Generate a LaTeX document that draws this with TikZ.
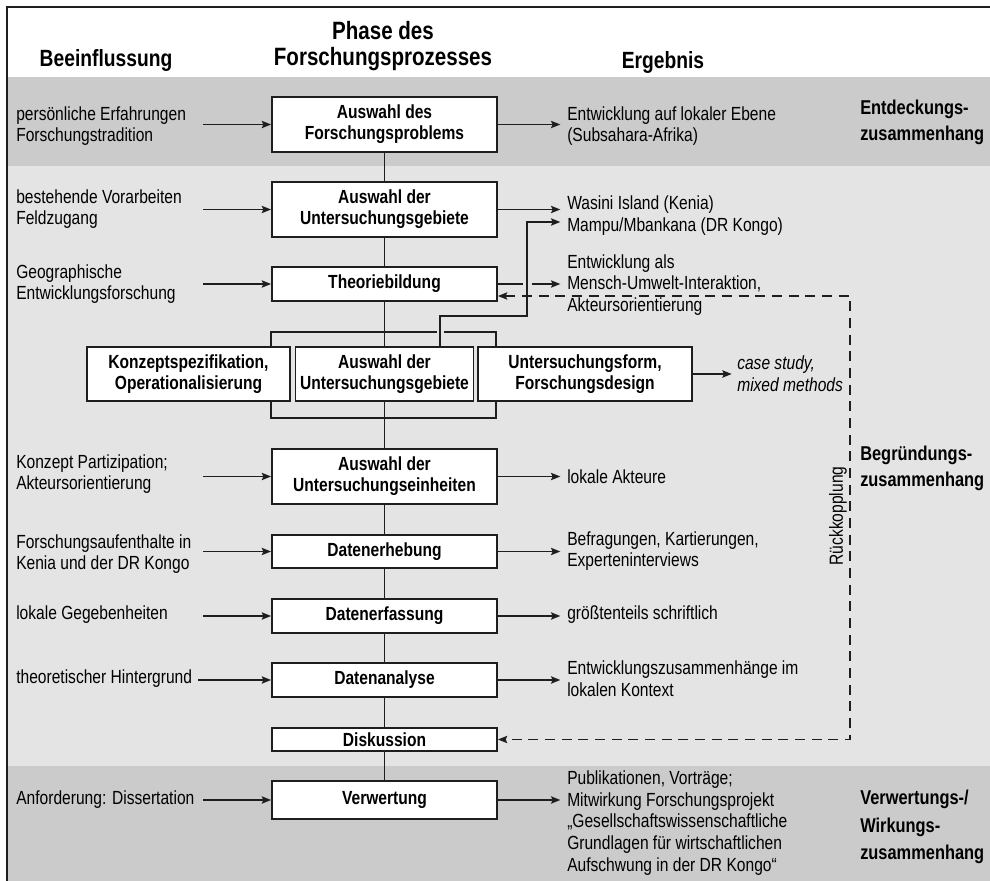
\documentclass[tikz,border=0pt]{standalone}
\usepackage{fontspec}
\setmainfont{Liberation Sans}[FakeStretch=0.82]
\usetikzlibrary{arrows.meta}
\definecolor{banddark}{HTML}{CBCBCB}
\definecolor{bandlight}{HTML}{E4E4E4}
\definecolor{ink}{HTML}{1E1E1E}
\newcommand{\fsnm}{\fontsize{14.25pt}{16.3pt}\selectfont}
\newcommand{\fsbx}{\fontsize{14.25pt}{15.75pt}\selectfont\bfseries}
\newcommand{\fshd}{\fontsize{18.8pt}{19.6pt}\selectfont\bfseries}
\newcommand{\fshs}{\fontsize{17.6pt}{20pt}\selectfont\bfseries}
\newcommand{\fsrt}{\fontsize{15pt}{19.5pt}\selectfont\bfseries}
\newcommand{\fsrtb}{\fontsize{15pt}{20.6pt}\selectfont\bfseries}
\begin{document}
\begin{tikzpicture}[x=0.75pt,y=-0.75pt,
  box/.style={draw=ink, line width=1.4pt, fill=white, inner sep=0pt, align=center, font=\fsbx},
  wbox/.style={box, minimum width=168.75pt},
  conn/.style={draw=ink, line width=1.1pt},
  arr/.style={conn, -{Stealth[length=7pt,width=5.5pt,inset=1.2pt]}},
  lt/.style={anchor=west, align=left, inner sep=0pt, font=\fsnm},
  rt/.style={anchor=west, align=left, inner sep=0pt, font=\fsnm},
  ph/.style={anchor=west, align=left, inner sep=0pt, font=\fsrt},
  feed/.style={conn, dash pattern=on 7.5pt off 5pt,
    {Stealth[length=7pt,width=5.5pt,inset=1.2pt]}-{Stealth[length=7pt,width=5.5pt,inset=1.2pt]}}]
\useasboundingbox (0,0) rectangle (990,881);
% background bands and frame
\fill[white] (0,0) rectangle (990,881);
\fill[banddark] (7,77) rectangle (990,166);
\fill[bandlight] (7,166) rectangle (990,766);
\fill[banddark] (7,766) rectangle (990,881);
\draw[ink, line width=1.6pt] (7,881) -- (7,7) -- (990,7);

% header
\node[font=\fshd, align=center, inner sep=0pt] (hph) at (383,46) {Phase des\\Forschungsprozesses};
\node[font=\fshs, inner sep=0pt] (hb) at (106,60) {Beeinflussung};
\node[font=\fshs, inner sep=0pt] (he) at (663,62) {Ergebnis};

% process boxes
\node[wbox, minimum height=41.25pt] (b1) at (384.5,124.5) {Auswahl des\\Forschungsproblems};
\node[wbox, minimum height=41.25pt] (b2) at (384.5,209.5) {Auswahl der\\Untersuchungsgebiete};
\node[wbox, minimum height=25.5pt] (b3) at (384.5,284) {Theoriebildung};
\node[box, minimum width=152.25pt, minimum height=40.5pt] (bk) at (188.5,374) {Konzeptspezifikation,\\Operationalisierung};
\node[box, minimum width=133.5pt, minimum height=40.5pt] (ba) at (384.5,374) {Auswahl der\\Untersuchungsgebiete};
\node[box, minimum width=160.5pt, minimum height=40.5pt] (bu) at (585,374) {Untersuchungsform,\\Forschungsdesign};
\node[wbox, minimum height=41.25pt] (be) at (384.5,476.5) {Auswahl der\\Untersuchungseinheiten};
\node[wbox, minimum height=24.75pt] (d1) at (384.5,551.5) {Datenerhebung};
\node[wbox, minimum height=25.5pt] (d2) at (384.5,616) {Datenerfassung};
\node[wbox, minimum height=25.5pt] (d3) at (384.5,680) {Datenanalyse};
\node[wbox, minimum height=17.25pt] (dk) at (384.5,739.5) {Diskussion};
\node[wbox, minimum height=28.5pt] (vw) at (384.5,800) {Verwertung};

% left texts
\node[lt] (l1) at (16,126) {persönliche Erfahrungen\\Forschungstradition};
\node[lt] (l2) at (16,209) {bestehende Vorarbeiten\\Feldzugang};
\node[lt] (l3) at (16,284) {Geographische\\Entwicklungsforschung};
\node[lt] (l4) at (16,474) {Konzept Partizipation;\\Akteursorientierung};
\node[lt] (l5) at (16,554) {Forschungsaufenthalte in\\Kenia und der DR Kongo};
\node[lt] (l6) at (16,615) {lokale Gegebenheiten};
\node[lt] (l7) at (16,679) {theoretischer Hintergrund};
\node[lt] (l8) at (16,800) {Anforderung: Dissertation};

% result texts
\node[rt] (r1) at (567,126) {Entwicklung auf lokaler Ebene\\(Subsahara-Afrika)};
\node[rt] (r2a) at (567,205) {Wasini Island (Kenia)};
\node[rt] (r2b) at (567,227) {Mampu/Mbankana (DR Kongo)};
\node[rt] (r3) at (567,285) {Entwicklung als\\Mensch-Umwelt-Interaktion,\\Akteursorientierung};
\node[rt, font=\fsnm\itshape] (ru) at (737,374) {case study,\\mixed methods};
\node[rt] (re) at (567,477) {lokale Akteure};
\node[rt] (rd1) at (567,551) {Befragungen, Kartierungen,\\Experteninterviews};
\node[rt] (rd2) at (567,615) {größtenteils schriftlich};
\node[rt] (rd3) at (567,679) {Entwicklungszusammenhänge im\\lokalen Kontext};
\node[rt] (rv) at (567,823) {Publikationen, Vorträge;\\Mitwirkung Forschungsprojekt\\„Gesellschaftswissenschaftliche\\Grundlagen für wirtschaftlichen\\Aufschwung in der DR Kongo“};

% phase labels
\node[ph] (p1) at (860,122) {Entdeckungs-\\zusammenhang};
\node[ph] (p2) at (860,468) {Begründungs-\\zusammenhang};
\node[ph, font=\fsrtb] (p3) at (860,827) {Verwertungs-/\\Wirkungs-\\zusammenhang};
\node[rotate=90, font=\fsnm, inner sep=0pt] (rk) at (838,516) {Rückkopplung};

% main column
\draw[conn] (b1.south) -- (b2.north);
\draw[conn] (b2.south) -- (b3.north);
\draw[conn] (b3.south) -- (ba.north);
\draw[conn] (ba.south) -- (be.north);
\draw[conn] (be.south) -- (d1.north);
\draw[conn] (d1.south) -- (d2.north);
\draw[conn] (d2.south) -- (d3.north);
\draw[conn] (d3.south) -- (dk.north);
\draw[conn] (dk.south) -- (vw.north);

% bracket around the three boxes
\coordinate (brl) at (271,332);
\coordinate (brr) at (496,332);
\coordinate (gb1) at (437,332);
\coordinate (gb2) at (444,332);
\coordinate (bbl) at (271,418);
\coordinate (bbr) at (496,418);
\draw[conn] (brl |- bk.north) -- (brl) -- (gb1);
\draw[conn] (gb2) -- (brr) -- (brr |- bu.north);
\draw[conn] (bbl |- bk.south) -- (bbl) -- (bbr) -- (bbr |- bu.south);

% left arrows
\coordinate (ax) at (203,0);
\coordinate (ax7) at (198,0);
\draw[arr] (b1.west -| ax) -- (b1.west);
\draw[arr] (b2.west -| ax) -- (b2.west);
\draw[arr] (b3.west -| ax) -- (b3.west);
\draw[arr] (be.west -| ax) -- (be.west);
\draw[arr] (d1.west -| ax) -- (d1.west);
\draw[arr] (d2.west -| ax) -- (d2.west);
\draw[arr] (d3.west -| ax7) -- (d3.west);
\draw[arr] (vw.west -| ax) -- (vw.west);

% right arrows
\draw[arr, shorten >=5pt] (b1.east) -- (b1.east -| r1.west);
\draw[arr, shorten >=5pt] (b2.east) -- (b2.east -| r2a.west);
\coordinate (g1) at (523,0);
\coordinate (g2) at (532,0);
\draw[conn] (b3.east) -- (b3.east -| g1);
\draw[arr, shorten >=5pt] (b3.east -| g2) -- (b3.east -| r3.west);
\draw[arr, shorten >=4pt] (bu.east) -- (bu.east -| ru.west);
\draw[arr, shorten >=5pt] (be.east) -- (be.east -| re.west);
\draw[arr, shorten >=5pt] (d1.east) -- (d1.east -| rd1.west);
\draw[arr, shorten >=5pt] (d2.east) -- (d2.east -| rd2.west);
\draw[arr, shorten >=5pt] (d3.east) -- (d3.east -| rd3.west);
\draw[arr, shorten >=5pt] (vw.east) -- (vw.east -| rv.west);

% Wasini route from inner box
\coordinate (w1) at (440,316);
\coordinate (w2) at (527,316);
\coordinate (w3) at (527,222);
\draw[arr, shorten >=5pt] (w1 |- ba.north) -- (w1) -- (w2) -- (w3) -- (w3 -| r2b.west);

% feedback
\coordinate (ft) at (850,296);
\draw[feed] (ft -| b3.east) -- (ft) -- (ft |- dk.east) -- (dk.east);
\end{tikzpicture}
\end{document}
